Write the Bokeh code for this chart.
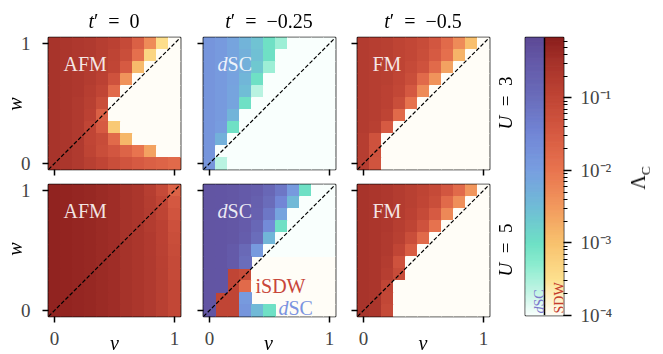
import math
from bokeh.plotting import figure
from bokeh.models import (ColumnDataSource, LinearColorMapper, Label, Slope,
                          FixedTicker, Span, Div)
from bokeh.layouts import row, column
from bokeh.embed import file_html
from bokeh.resources import INLINE

FONT = "Liberation Serif"

# ---------------- data ----------------
v_vals = [0.0, 0.1, 0.2, 0.3, 0.4, 0.5, 0.6, 0.7, 0.8, 0.9, 1.0]
w_vals = [0.0, 0.1, 0.2, 0.3, 0.4, 0.5, 0.6, 0.7, 0.8, 0.9, 1.0]
axis_ticks = [0, 1]

cb_ticks = [1e-4, 1e-3, 1e-2, 1e-1]
cb_tick_labels = ["10⁻⁴", "10⁻³", "10⁻²", "10⁻¹"]
cb_low, cb_high = 1e-4, 0.68

col_titles = ["<i>t</i>′&ensp;=&ensp;0", "<i>t</i>′&ensp;=&ensp;−0.25",
              "<i>t</i>′&ensp;=&ensp;−0.5"]
row_titles = ["<i>U</i>&ensp;=&ensp;3", "<i>U</i>&ensp;=&ensp;5"]
x_label = "<i>v</i>"
y_label = "<i>w</i>"
cb_label = "Λ<sub style='font-size:13px'>C</sub>"

W = -4.0  # below colour range (white)

# log10(Lambda_C); rows listed from w = 1.0 (top) down to w = 0.0
logL_U3_t0 = [
    [-0.55, -0.6, -0.65, -0.7, -0.8, -0.9, -1.1, -1.6, -2.3, -3.45, W],
    [-0.55, -0.6, -0.65, -0.7, -0.8, -0.95, -1.2, -1.9, -3.3, W, W],
    [-0.55, -0.6, -0.65, -0.75, -0.85, -1.0, -1.5, -2.9, W, W, W],
    [-0.55, -0.6, -0.65, -0.75, -0.9, -1.3, -2.4, W, W, W, W],
    [-0.55, -0.6, -0.65, -0.8, -1.0, -1.8, W, W, W, W, W],
    [-0.55, -0.6, -0.7, -0.85, -1.2, W, W, W, W, W, W],
    [-0.55, -0.6, -0.7, -0.9, -1.6, W, W, W, W, W, W],
    [-0.55, -0.6, -0.7, -1.0, -1.5, -3.1, W, W, W, W, W],
    [-0.55, -0.6, -0.7, -1.0, -1.15, -1.8, -2.85, W, W, W, W],
    [-0.55, -0.6, -0.7, -0.95, -1.2, -1.4, -1.7, -2.0, -2.6, W, W],
    [-0.55, -0.6, -0.7, -0.85, -1.0, -1.2, -1.35, -1.5, -1.6, -1.7, -1.8],
]
logL_U3_tm025 = [
    [-1.8, -1.9, -2.1, -2.35, -2.6, -3.0, -3.4, W, W, W, W],
    [-1.8, -1.9, -2.1, -2.3, -2.55, -3.0, W, W, W, W, W],
    [-1.8, -1.9, -2.1, -2.3, -2.65, -3.4, W, W, W, W, W],
    [-1.8, -1.9, -2.05, -2.4, -3.0, W, W, W, W, W, W],
    [-1.8, -1.9, -2.1, -2.5, -3.6, W, W, W, W, W, W],
    [-1.8, -1.9, -2.1, -3.0, W, W, W, W, W, W, W],
    [-1.8, -1.9, -2.35, W, W, W, W, W, W, W, W],
    [-1.8, -1.95, -3.0, W, W, W, W, W, W, W, W],
    [-1.8, -2.3, W, W, W, W, W, W, W, W, W],
    [-1.8, W, W, W, W, W, W, W, W, W, W],
    [-1.8, -3.6, W, W, W, W, W, W, W, W, W],
]
logL_U3_tm05 = [
    [-0.75, -0.8, -0.85, -0.95, -1.05, -1.15, -1.4, -1.8, -2.3, -2.95, W],
    [-0.75, -0.8, -0.85, -0.95, -1.05, -1.2, -1.5, -1.9, -2.8, W, W],
    [-0.75, -0.8, -0.85, -0.95, -1.1, -1.3, -1.8, -2.6, W, W, W],
    [-0.75, -0.8, -0.85, -1.0, -1.2, -1.8, -2.4, W, W, W, W],
    [-0.75, -0.8, -0.9, -1.05, -1.45, -2.3, W, W, W, W, W],
    [-0.75, -0.8, -0.9, -1.2, -1.95, W, W, W, W, W, W],
    [-0.75, -0.8, -0.95, -1.8, W, W, W, W, W, W, W],
    [-0.75, -0.85, -1.5, W, W, W, W, W, W, W, W],
    [-0.8, -1.3, W, W, W, W, W, W, W, W, W],
    [-0.8, -1.3, W, W, W, W, W, W, W, W, W],
    [-0.8, -1.35, W, W, W, W, W, W, W, W, W],
]
logL_U5_t0 = [
    [-0.25, -0.27, -0.3, -0.33, -0.37, -0.42, -0.5, -0.6, -0.8, -1.1, -1.65],
    [-0.25, -0.27, -0.3, -0.33, -0.37, -0.42, -0.5, -0.6, -0.78, -1.0, -1.45],
    [-0.25, -0.27, -0.3, -0.33, -0.37, -0.42, -0.5, -0.6, -0.75, -0.95, -1.35],
    [-0.25, -0.27, -0.3, -0.33, -0.37, -0.42, -0.5, -0.6, -0.75, -0.9, -1.25],
    [-0.25, -0.27, -0.3, -0.33, -0.37, -0.42, -0.5, -0.6, -0.72, -0.9, -1.2],
    [-0.25, -0.27, -0.3, -0.33, -0.37, -0.42, -0.5, -0.6, -0.72, -0.88, -1.15],
    [-0.25, -0.27, -0.3, -0.33, -0.37, -0.42, -0.5, -0.6, -0.7, -0.87, -1.1],
    [-0.25, -0.27, -0.3, -0.33, -0.37, -0.42, -0.5, -0.6, -0.7, -0.85, -1.1],
    [-0.25, -0.27, -0.3, -0.33, -0.37, -0.42, -0.5, -0.6, -0.7, -0.85, -1.05],
    [-0.25, -0.27, -0.3, -0.33, -0.37, -0.42, -0.5, -0.6, -0.7, -0.85, -1.05],
    [-0.25, -0.27, -0.3, -0.33, -0.37, -0.42, -0.5, -0.6, -0.7, -0.85, -1.05],
]
logL_U5_tm025 = [
    [-0.4, -0.42, -0.45, -0.5, -0.6, -0.85, -1.2, -1.9, -3.0, W, W],
    [-0.4, -0.42, -0.45, -0.5, -0.65, -0.95, -1.5, -2.45, W, W, W],
    [-0.4, -0.42, -0.45, -0.55, -0.7, -1.2, -2.1, W, W, W, W],
    [-0.4, -0.42, -0.45, -0.55, -0.85, -1.6, -3.0, W, W, W, W],
    [-0.4, -0.42, -0.45, -0.6, -1.0, -2.4, W, W, W, W, W],
    [-0.4, -0.42, -0.5, -0.9, -1.9, W, W, W, W, W, W],
    [-0.4, -0.42, -0.5, -1.0, W, W, W, W, W, W, W],
    [-0.4, -0.42, -1.0, -1.15, W, W, W, W, W, W, W],
    [-0.4, -0.42, -1.0, -1.8, W, W, W, W, W, W, W],
    [-0.4, -1.0, -1.0, -1.9, W, W, W, W, W, W, W],
    [-0.4, -1.0, -1.0, -1.8, -2.45, -3.0, W, W, W, W, W],
]
# leading instability: D = dSC, S = SDW (same row order)
phase_U5_tm025 = [
    "DDDDDDDDDDD",
    "DDDDDDDDDDD",
    "DDDDDDDDDDD",
    "DDDDDDDDDDD",
    "DDDDDDDDDDD",
    "DDDDDDDDDDD",
    "DDDDSSSSSSS",
    "DDSSSSSSSSS",
    "DDSSSSSSSSS",
    "DSSDSSSSSSS",
    "DSSDDDSSSSS",
]
logL_U5_tm05 = [
    [-0.55, -0.6, -0.65, -0.75, -0.85, -0.95, -1.1, -1.4, -1.8, -2.45, W],
    [-0.55, -0.6, -0.65, -0.75, -0.85, -1.0, -1.2, -1.8, -2.35, W, W],
    [-0.55, -0.6, -0.65, -0.75, -0.9, -1.1, -1.5, -2.25, W, W, W],
    [-0.55, -0.6, -0.65, -0.8, -0.95, -1.3, -1.95, W, W, W, W],
    [-0.55, -0.6, -0.7, -0.85, -1.2, -1.8, W, W, W, W, W],
    [-0.55, -0.6, -0.7, -1.0, -1.55, W, W, W, W, W, W],
    [-0.55, -0.6, -0.75, -1.3, W, W, W, W, W, W, W],
    [-0.55, -0.6, -0.8, -1.15, W, W, W, W, W, W, W],
    [-0.55, -0.6, -1.0, W, W, W, W, W, W, W, W],
    [-0.55, -0.6, -1.05, W, W, W, W, W, W, W, W],
    [-0.55, -0.6, -1.1, W, W, W, W, W, W, W, W],
]
ALL_S = ["S" * 11] * 11
ALL_D = ["D" * 11] * 11

# ---------------- colour maps ----------------
SDW_ANCHORS = [(-4.0, "#fffdf7"), (-3.75, "#fef0c4"), (-3.5, "#fde08e"),
               (-3.0, "#f8c26e"), (-2.5, "#f29a5e"), (-2.0, "#e8744f"),
               (-1.5, "#d65a42"), (-1.0, "#c04535"), (-0.5, "#a5322a"),
               (-0.1675, "#8a1e1c")]
DSC_ANCHORS = [(-4.0, "#f9fffd"), (-3.7, "#c6f5e6"), (-3.3, "#8ceccf"),
               (-3.0, "#6ee0c5"), (-2.5, "#70bcd6"), (-2.0, "#789ee0"),
               (-1.5, "#7286d6"), (-1.0, "#6a6dbb"), (-0.5, "#6459a8"),
               (-0.1675, "#5d4995")]

LO = math.log10(cb_low)
HI = math.log10(cb_high)


def make_palette(anchors, n=256):
    def h2rgb(h):
        return tuple(int(h[i:i + 2], 16) for i in (1, 3, 5))
    out = []
    for i in range(n):
        t = LO + (HI - LO) * i / (n - 1)
        for (a, ca), (b, cb_) in zip(anchors[:-1], anchors[1:]):
            if a <= t <= b + 1e-9:
                f = (t - a) / (b - a)
                r1, g1, b1 = h2rgb(ca)
                r2, g2, b2 = h2rgb(cb_)
                out.append("#%02x%02x%02x" % (round(r1 + f * (r2 - r1)),
                                              round(g1 + f * (g2 - g1)),
                                              round(b1 + f * (b2 - b1))))
                break
    return out


sdw_map = LinearColorMapper(palette=make_palette(SDW_ANCHORS), low=LO, high=HI)
dsc_map = LinearColorMapper(palette=make_palette(DSC_ANCHORS), low=LO, high=HI)

EM = {'d': 0.5}


def text_w(s, size):
    return sum(EM.get(c, 0.5) for c in s) * size


PPU = 120.0  # pixels per data unit in the panels


def lab(p, x, y, text, size=20, italic=False, align="left", baseline="alphabetic",
        angle=0.0, color="black", alpha=1.0):
    p.add_layout(Label(x=x, y=y, text=text, text_font=FONT,
                       text_font_size=f"{size}px",
                       text_font_style="italic" if italic else "normal",
                       text_align=align, text_baseline=baseline, angle=angle,
                       text_color=color, text_alpha=alpha))


def style_axis(ax, show_labels, standoff):
    ax.ticker = FixedTicker(ticks=axis_ticks)
    ax.axis_line_color = None
    ax.major_tick_line_color = "black"
    ax.major_tick_line_width = 1.5
    ax.major_tick_out = 6
    ax.major_tick_in = 0
    ax.minor_tick_line_color = None
    ax.major_label_text_font = FONT
    if show_labels:
        ax.major_label_text_font_size = "19px"
        ax.major_label_standoff = standoff
    else:
        ax.major_label_text_font_size = "0px"
        ax.major_label_standoff = 0
        ax.major_label_overrides = {t: "" for t in axis_ticks}


def make_panel(vals, phases, bl, br, bt, bb, xlab, ylab):
    p = figure(frame_width=132, frame_height=132, x_range=(-0.05, 1.05),
               y_range=(-0.05, 1.05), min_border_left=bl, min_border_right=br,
               min_border_top=bt, min_border_bottom=bb, output_backend="svg",
               toolbar_location=None, tools="")
    dv = v_vals[1] - v_vals[0]
    dw = w_vals[1] - w_vals[0]
    data = {"S": dict(v=[], w=[], L=[]), "D": dict(v=[], w=[], L=[])}
    nrow = len(w_vals)
    for ri, (rv, rp) in enumerate(zip(vals, phases)):
        w = w_vals[nrow - 1 - ri]
        for ci, (val, ph) in enumerate(zip(rv, rp)):
            d = data[ph]
            d["v"].append(v_vals[ci])
            d["w"].append(w)
            d["L"].append(val)
    for ph, mp in (("S", sdw_map), ("D", dsc_map)):
        if data[ph]["v"]:
            p.rect(x="v", y="w", width=dv, height=dw,
                   source=ColumnDataSource(data[ph]),
                   fill_color={"field": "L", "transform": mp},
                   line_color={"field": "L", "transform": mp}, line_width=1.0)
    p.add_layout(Slope(gradient=1, y_intercept=0, line_color="black",
                       line_dash="4 2", line_width=1.2))
    p.grid.visible = False
    p.outline_line_color = "black"
    p.outline_line_width = 1.7
    p.background_fill_color = "white"
    p.border_fill_color = "white"
    style_axis(p.xaxis[0], xlab, 9)
    style_axis(p.yaxis[0], ylab, 12)
    return p


# borders place the frames at x = 48, 203, 357 and y = 37, 184
panels = [
    make_panel(logL_U3_t0, ALL_S, 48, 2, 37, 7, False, True),
    make_panel(logL_U3_tm025, ALL_D, 21, 2, 37, 7, False, False),
    make_panel(logL_U3_tm05, ALL_S, 20, 34, 37, 7, False, False),
    make_panel(logL_U5_t0, ALL_S, 48, 2, 8, 37, True, True),
    make_panel(logL_U5_tm025, phase_U5_tm025, 21, 2, 8, 37, True, False),
    make_panel(logL_U5_tm05, ALL_S, 20, 34, 8, 37, True, False),
]

# phase labels inside the panels
for p in (panels[0], panels[3]):
    lab(p, 0.075, 0.83, "AFM", color="white", alpha=0.88)
for p in (panels[2], panels[5]):
    lab(p, 0.075, 0.83, "FM", color="white", alpha=0.88)
for p in (panels[1], panels[4]):
    x0 = 0.067 + text_w("d", 20) / PPU
    lab(p, x0, 0.83, "d", italic=True, align="right", color="white", alpha=0.88)
    lab(p, x0, 0.83, "SC", align="left", color="white", alpha=0.88)
lab(panels[4], 0.383, 0.208, "iSDW", color="#c8463a")
x0 = 0.575 + text_w("d", 20) / PPU
lab(panels[4], x0, 0.017, "d", italic=True, align="right", color="#7b93e0")
lab(panels[4], x0, 0.017, "SC", align="left", color="#7b93e0")

# ---------------- colour bar ----------------
cb = figure(frame_width=38, frame_height=278, x_range=(0, 2),
            y_range=(cb_low, cb_high), y_axis_type="log", y_axis_location="right",
            min_border_left=2, min_border_right=90, min_border_top=37,
            min_border_bottom=38, output_backend="svg", toolbar_location=None,
            tools="")
nseg = 256
edges = [LO + (HI - LO) * i / nseg for i in range(nseg + 1)]
seg = dict(bottom=[10 ** e for e in edges[:-1]], top=[10 ** e for e in edges[1:]],
           mid=[(a + b) / 2 for a, b in zip(edges[:-1], edges[1:])])
src = ColumnDataSource(seg)
cb.quad(left=0, right=1, bottom="bottom", top="top", source=src,
        fill_color={"field": "mid", "transform": dsc_map},
        line_color={"field": "mid", "transform": dsc_map}, line_width=1.0)
cb.quad(left=1, right=2, bottom="bottom", top="top", source=src,
        fill_color={"field": "mid", "transform": sdw_map},
        line_color={"field": "mid", "transform": sdw_map}, line_width=1.0)
cb.add_layout(Span(location=1, dimension="height", line_color="black", line_width=1.5))
cb.grid.visible = False
cb.xaxis.visible = False
cb.outline_line_color = "black"
cb.outline_line_width = 1.7
cb.border_fill_color = "white"
ax = cb.yaxis[0]
minor = [k * 10.0 ** e for e in range(-4, 0) for k in range(2, 10) if k * 10.0 ** e < cb_high]
ax.ticker = FixedTicker(ticks=cb_ticks, minor_ticks=minor)
ax.major_label_overrides = dict(zip(cb_ticks, cb_tick_labels))
ax.axis_line_color = None
ax.major_tick_line_color = "black"
ax.major_tick_line_width = 1.3
ax.major_tick_out = 8
ax.major_tick_in = 0
ax.minor_tick_line_color = "black"
ax.minor_tick_line_width = 1.0
ax.minor_tick_out = 4
ax.minor_tick_in = 0
ax.major_label_text_font = FONT
ax.major_label_text_font_size = "19px"
ax.major_label_standoff = 9

DPD = 278 / (HI - LO)  # pixels per decade
cbx = 19.0             # pixels per x unit


def ylog(px_from_bottom):
    return 10 ** (LO + px_from_bottom / DPD)


lab(cb, 13.5 / cbx, ylog(2), "d", size=14, italic=True, angle=math.pi / 2,
    color="#7b78cc")
lab(cb, 13.5 / cbx, ylog(2 + text_w("d", 14)), "SC", size=14, angle=math.pi / 2,
    color="#7b78cc")
lab(cb, 33.5 / cbx, ylog(2), "SDW", size=14, angle=math.pi / 2, color="#c43c2c")

# ---------------- texts around the panels (page positions) ----------------
base = ("position:fixed;white-space:nowrap;line-height:1;font-family:'Liberation Serif';"
        "font-size:19px;color:black;")


def txt(html, cx, cy, rotate=False, size=19):
    tf = "translate(-50%,-50%)" + (" rotate(-90deg)" if rotate else "")
    return (f'<span style="{base}font-size:{size}px;left:{cx}px;top:{cy}px;'
            f'transform:{tf};">{html}</span>')


frame_cx = [114, 269, 423]
pieces = []
for t, cx in zip(col_titles, frame_cx):
    pieces.append(txt(t, cx, 21, size=20))
for t, cy in zip(row_titles, [102.5, 249.5]):
    pieces.append(txt(t, 505, cy, rotate=True))
for cy in [103.5, 249]:
    pieces.append(txt(y_label, 15, cy, rotate=True, size=20))
for cx in [114.5, 268.5, 423]:
    pieces.append(txt(x_label, cx, 343, size=20))
pieces.append(txt(cb_label, 640, 178, rotate=True, size=20))
overlay = Div(text="".join(pieces), width=1, height=1, margin=0)

layout = row(column(row(*panels[:3]), row(*panels[3:])), cb, overlay)

with open("out.html", "w") as f:
    f.write(file_html(layout, INLINE))
